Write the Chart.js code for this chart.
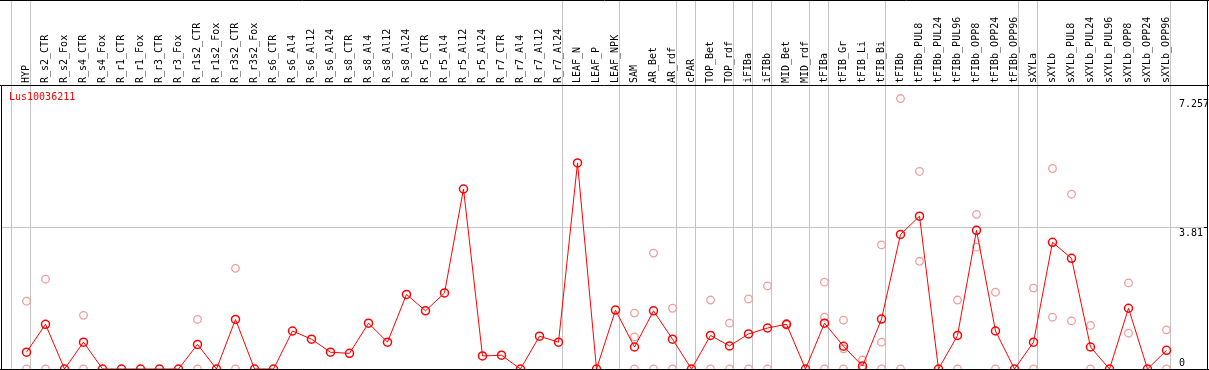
<!DOCTYPE html>
<html>
<head>
<meta charset="utf-8">
<script src="https://cdn.jsdelivr.net/npm/chart.js@4.4.0/dist/chart.umd.min.js"></script>
<style>
  html, body { margin: 0; padding: 0; background: #fff; }
</style>
</head>
<body>
<canvas id="chart" width="1209" height="370"></canvas>
<script>
const geneName = "Lus10036211";

const categories = [
  "HYP", "R_s2_CTR", "R_s2_Fox", "R_s4_CTR", "R_s4_Fox", "R_r1_CTR", "R_r1_Fox", "R_r3_CTR", "R_r3_Fox",
  "R_r1s2_CTR", "R_r1s2_Fox", "R_r3s2_CTR", "R_r3s2_Fox", "R_s6_CTR", "R_s6_Al4", "R_s6_Al12", "R_s6_Al24",
  "R_s8_CTR", "R_s8_Al4", "R_s8_Al12", "R_s8_Al24", "R_r5_CTR", "R_r5_Al4", "R_r5_Al12", "R_r5_Al24",
  "R_r7_CTR", "R_r7_Al4", "R_r7_Al12", "R_r7_Al24", "LEAF_N", "LEAF_P", "LEAF_NPK", "SAM", "AR_Bet", "AR_rdf",
  "cPAR", "TOP_Bet", "TOP_rdf", "iFIBa", "iFIBb", "MID_Bet", "MID_rdf", "tFIBa", "tFIB_Gr", "tFIB_Li", "tFIB_Bi",
  "tFIBb", "tFIBb_PUL8", "tFIBb_PUL24", "tFIBb_PUL96", "tFIBb_OPP8", "tFIBb_OPP24", "tFIBb_OPP96",
  "sXYLa", "sXYLb", "sXYLb_PUL8", "sXYLb_PUL24", "sXYLb_PUL96", "sXYLb_OPP8", "sXYLb_OPP24", "sXYLb_OPP96"
];

// mean expression per sample
const meanValues = [
  0.45, 1.20, 0, 0.72, 0, 0, 0, 0, 0, 0.66,
  0, 1.33, 0, 0, 1.02, 0.80, 0.45, 0.42, 1.23, 0.72,
  2.00, 1.56, 2.04, 4.83, 0.35, 0.37, 0, 0.88, 0.72, 5.53,
  0, 1.58, 0.59, 1.56, 0.80, 0, 0.90, 0.62, 0.94, 1.10,
  1.20, 0, 1.23, 0.61, 0.08, 1.34, 3.61, 4.10, 0, 0.90,
  3.72, 1.02, 0, 0.72, 3.40, 2.97, 0.59, 0, 1.63, 0,
  0.50
];

// single replicates (same order as categories)
const replicateValues = [
  [1.82, 0], [2.41, 0], [], [1.44, 0], [], [], [], [], [], [1.33, 0],
  [], [2.70, 0], [], [], [], [], [], [], [], [],
  [], [], [], [], [], [], [], [], [], [],
  [], [], [1.50, 0.86, 0], [3.11, 0], [1.63, 0], [], [1.85, 0], [1.23, 0], [1.88, 0], [2.23, 0],
  [1.22, 1.18], [], [2.33, 1.39, 0], [1.31, 0.54, 0], [0.24, 0], [3.33, 0.72, 0], [7.257, 0], [5.30, 2.89], [], [1.85, 0],
  [4.15, 3.27], [2.06, 0], [], [2.17, 0], [5.38, 1.39], [4.69, 1.29], [1.17, 0], [], [2.31, 0.96], [],
  [1.05, 0]
];

// last index of each sample group (-1 = before the first one)
const groupEnds = [-1, 0, 28, 31, 34, 35, 37, 38, 39, 41, 42, 45, 52, 53, 60];

const yTicks = [0, 3.81, 7.257];
const yMax = 7.62;

const repPoints = [];
replicateValues.forEach((reps, i) => {
  reps.forEach(v => repPoints.push({ x: categories[i], y: v }));
});

const monoFont = { family: "DejaVu Sans Mono", size: 10 };

const decor = {
  id: "decor",
  beforeDatasetsDraw(chart) {
    const { ctx, chartArea, scales, width } = chart;
    ctx.save();
    ctx.strokeStyle = "#c4c4c4";
    ctx.lineWidth = 1;
    ctx.beginPath();
    groupEnds.forEach(i => {
      const px = Math.floor(scales.x.getPixelForValue(i) + 4.2) + 0.5;
      ctx.moveTo(px, 0);
      ctx.lineTo(px, chartArea.bottom);
    });
    const gy = Math.floor(scales.y.getPixelForValue(yTicks[1])) + 0.5;
    ctx.moveTo(1, gy);
    ctx.lineTo(width - 5, gy);
    ctx.stroke();
    // small tick on the right border
    ctx.strokeStyle = "#000";
    ctx.beginPath();
    ctx.moveTo(width - 5, gy);
    ctx.lineTo(width - 1, gy);
    ctx.stroke();
    ctx.restore();
  },
  afterDraw(chart) {
    const { ctx, chartArea, width, height } = chart;
    ctx.save();
    ctx.strokeStyle = "#000";
    ctx.lineWidth = 1;
    ctx.beginPath();
    ctx.moveTo(0, 0.5); ctx.lineTo(width, 0.5);
    ctx.moveTo(0, chartArea.top + 0.5); ctx.lineTo(width, chartArea.top + 0.5);
    ctx.moveTo(1.5, chartArea.top); ctx.lineTo(1.5, height);
    ctx.moveTo(width - 1.5, 0); ctx.lineTo(width - 1.5, height);
    ctx.moveTo(0, chartArea.bottom + 0.5); ctx.lineTo(width, chartArea.bottom + 0.5);
    ctx.stroke();

    ctx.fillStyle = "#ff0000";
    ctx.font = "10px 'DejaVu Sans Mono'";
    ctx.textBaseline = "middle";
    ctx.fillText(geneName, 9, chartArea.top + 12);
    ctx.restore();
  }
};

new Chart(document.getElementById("chart"), {
  type: "line",
  data: {
    labels: categories,
    datasets: [
      {
        label: geneName,
        data: meanValues,
        borderColor: "#ff0000",
        borderWidth: 1,
        tension: 0,
        pointRadius: 4,
        pointBorderWidth: 1.5,
        pointBorderColor: "#ff0000",
        pointBackgroundColor: "rgba(255,255,255,0)",
        order: 1
      },
      {
        label: "replicates",
        data: repPoints,
        showLine: false,
        pointRadius: 3.8,
        pointBorderWidth: 1.3,
        pointBorderColor: "#f09c9c",
        pointBackgroundColor: "rgba(255,255,255,0)",
        order: 2
      }
    ]
  },
  options: {
    responsive: false,
    animation: false,
    layout: { autoPadding: false, padding: { left: 17, bottom: 1 } },
    plugins: { legend: { display: false }, tooltip: { enabled: false } },
    scales: {
      x: {
        position: "top",
        offset: true,
        grid: { display: false, drawTicks: false },
        border: { display: false },
        ticks: {
          autoSkip: false, minRotation: 90, maxRotation: 90, padding: 2, labelOffset: 12,
          color: "#000", font: monoFont
        },
        afterFit: s => { s.height = 85; s.paddingLeft = 0; s.paddingRight = 0; }
      },
      y: {
        position: "right",
        min: 0,
        max: yMax,
        afterBuildTicks: s => { s.ticks = yTicks.map(v => ({ value: v })); },
        grid: { display: false, drawTicks: false },
        border: { display: false },
        ticks: {
          padding: 3, color: "#000", font: monoFont,
          callback: v => v === 0 ? [String(v), ""] : ["", String(v)]
        },
        afterFit: s => { s.width = 33; s.paddingTop = 0; s.paddingBottom = 0; }
      }
    }
  },
  plugins: [decor]
});
</script>
</body>
</html>
